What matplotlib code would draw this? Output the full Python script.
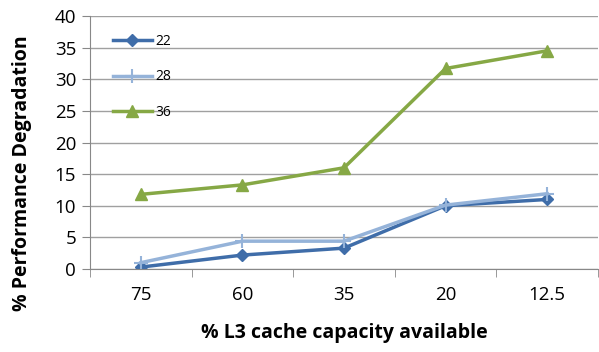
import matplotlib.pyplot as plt

categories = ["75", "60", "35", "20", "12.5"]
s22 = [0.3, 2.2, 3.3, 10.0, 11.0]
s28 = [1.0, 4.4, 4.4, 10.1, 11.9]
s36 = [11.8, 13.3, 16.0, 31.7, 34.5]

plt.rcParams['font.family'] = ['Open Sans', 'DejaVu Sans']

fig = plt.figure(figsize=(5.99, 3.52), dpi=100)
ax = fig.add_axes([90 / 599, 1 - 269 / 352, 508 / 599, 253 / 352])

x = range(len(categories))
ax.plot(x, s22, color="#3F6DA9", lw=2.5, marker="D", ms=6, label="22")
ax.plot(x, s28, color="#95B3D9", lw=2.5, marker="+", ms=10, mew=1.5, label="28")
ax.plot(x, s36, color="#86A845", lw=2.5, marker="^", ms=8, label="36")

ax.set_xlim(-0.5, 4.5)
ax.set_ylim(0, 40)
ax.set_yticks(range(0, 41, 5))
ax.set_xticks(x)
ax.set_xticklabels(categories)
ax.set_xticks([i - 0.5 for i in range(6)], minor=True)
ax.tick_params(axis="x", which="major", length=0, pad=12, labelsize=13.5)
ax.tick_params(axis="x", which="minor", length=6, color="#888888")
ax.tick_params(axis="y", length=6, color="#888888", labelsize=13.5, pad=4)
ax.grid(axis="y", color="#A0A0A0", lw=1)
ax.set_axisbelow(True)
for side in ["top", "right"]:
    ax.spines[side].set_visible(False)
ax.spines["left"].set_color("#888888")
ax.spines["bottom"].set_color("#888888")

ax.set_xlabel("% L3 cache capacity available", fontsize=14, fontweight="bold", labelpad=14)
ax.set_ylabel("% Performance Degradation", fontsize=14, fontweight="bold")
ax.yaxis.set_label_coords(-0.115, 0.38)

ax.legend(loc="upper left", bbox_to_anchor=(0.02, 0.98), frameon=False, fontsize=10,
          labelspacing=1.5, handlelength=2.8, handletextpad=0.3)

fig.savefig("out.png", dpi=100)
